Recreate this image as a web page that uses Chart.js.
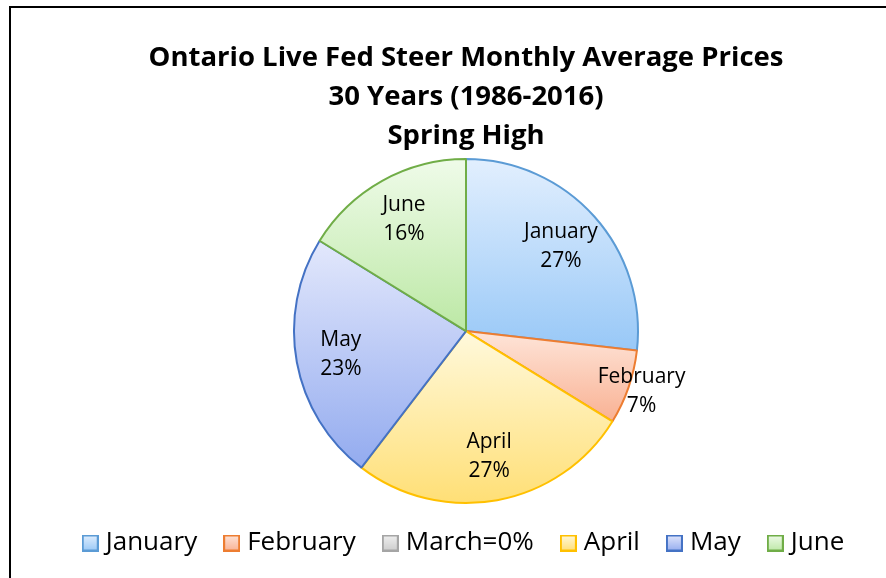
<!DOCTYPE html>
<html><head><meta charset="utf-8">
<script src="https://cdn.jsdelivr.net/npm/chart.js@4"></script>
<style>
html,body{margin:0;padding:0;background:#fff;overflow:hidden;width:886px;height:578px}
#frame{position:absolute;left:9px;top:6px;width:910px;height:600px;border:2px solid #000;background:#fff}
canvas{display:block}
</style>
</head><body><div id="frame"><canvas id="c" width="910" height="558"></canvas></div>
<script>
// ---- data ----
const categories = ['January', 'February', 'March=0%', 'April', 'May', 'June'];
const shares = [26.8, 7.0, 0, 26.6, 23.4, 16.2];
const titleLines = ['Ontario Live Fed Steer Monthly Average Prices', '30 Years (1986-2016)', 'Spring High'];

// ---- styles ----
const borderColors = ['#5b9bd5', '#ed7d31', '#a5a5a5', '#ffc000', '#4472c4', '#70ad47'];
const fillTop = ['#e2effe', '#fee5d9', '#f0f0f0', '#fff9dc', '#e3e8fc', '#effbe9'];
const fillBottom = ['#98c8f7', '#f9b193', '#cccccc', '#ffdf76', '#93abef', '#bce8a5'];
const FONT = '"Open Sans", "Noto Sans", sans-serif';

function legendBox(i) {
  const cv = document.createElement('canvas');
  cv.width = 17; cv.height = 17;
  const g = cv.getContext('2d');
  const gr = g.createLinearGradient(0, 0, 0, 17);
  gr.addColorStop(0, fillTop[i]); gr.addColorStop(1, fillBottom[i]);
  g.fillStyle = gr; g.fillRect(0, 0, 17, 17);
  g.lineWidth = 2; g.strokeStyle = borderColors[i]; g.strokeRect(1, 1, 15, 15);
  return cv;
}

const gradientFill = {
  id: 'gradientFill',
  beforeDatasetsDraw(chart) {
    const ctx = chart.ctx;
    chart.getDatasetMeta(0).data.forEach((arc, i) => {
      const {x, y, startAngle, endAngle, outerRadius} = arc.getProps(['x', 'y', 'startAngle', 'endAngle', 'outerRadius'], true);
      let ymin = y, ymax = y;
      const n = 60;
      for (let k = 0; k <= n; k++) {
        const a = startAngle + (endAngle - startAngle) * k / n;
        const yy = y + Math.sin(a) * outerRadius;
        ymin = Math.min(ymin, yy); ymax = Math.max(ymax, yy);
      }
      if (ymax - ymin < 1) ymax = ymin + 1;
      const g = ctx.createLinearGradient(0, ymin, 0, ymax);
      g.addColorStop(0, fillTop[i]); g.addColorStop(1, fillBottom[i]);
      arc.options = Object.assign({}, arc.options, {backgroundColor: g});
    });
  }
};

const sliceLabels = {
  id: 'sliceLabels',
  afterDatasetsDraw(chart) {
    const ctx = chart.ctx;
    const ds = chart.data.datasets[0].data;
    const total = ds.reduce((a, b) => a + b, 0);
    ctx.save();
    ctx.font = '21px ' + FONT;
    ctx.fillStyle = '#000';
    ctx.textAlign = 'center';
    ctx.textBaseline = 'middle';
    chart.getDatasetMeta(0).data.forEach((arc, i) => {
      const v = ds[i];
      if (!v) return;
      const {x, y, startAngle, endAngle, outerRadius} = arc.getProps(['x', 'y', 'startAngle', 'endAngle', 'outerRadius'], true);
      const mid = (startAngle + endAngle) / 2;
      const share = v / total;
      const f = share < 0.1 ? 1.08 : 0.74;
      const px = x + Math.cos(mid) * outerRadius * f;
      const py = y + Math.sin(mid) * outerRadius * f;
      ctx.fillText(chart.data.labels[i], px, py - 14.5);
      ctx.fillText(Math.round(share * 100) + '%', px, py + 14.5);
    });
    ctx.restore();
  }
};

new Chart(document.getElementById('c'), {
  type: 'pie',
  data: {
    labels: categories,
    datasets: [{
      data: shares,
      backgroundColor: fillTop,
      borderColor: borderColors,
      borderWidth: 2
    }]
  },
  options: {
    responsive: false,
    animation: false,
    radius: 172,
    layout: {padding: 0},
    plugins: {
      title: {
        display: true,
        text: titleLines,
        color: '#000',
        font: {family: FONT, size: 27.5, weight: 'bold', lineHeight: 1.42},
        padding: {top: 31, bottom: 8}
      },
      legend: {
        position: 'bottom',
        labels: {
          color: '#000',
          font: {family: FONT, size: 26},
          padding: 32,
          usePointStyle: true,
          pointStyleWidth: 5,
          generateLabels(chart) {
            return chart.data.labels.map((t, i) => ({
              text: t,
              fillStyle: fillTop[i],
              strokeStyle: borderColors[i],
              lineWidth: 0,
              pointStyle: legendBox(i),
              hidden: false,
              index: i,
              fontColor: '#000'
            }));
          }
        }
      },
      tooltip: {enabled: false}
    }
  },
  plugins: [gradientFill, sliceLabels]
});
</script></body></html>
